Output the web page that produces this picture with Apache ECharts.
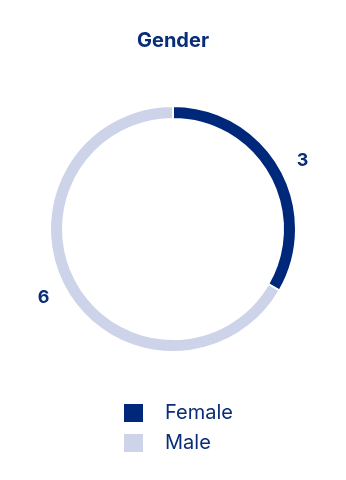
<!DOCTYPE html>
<html><head><meta charset="utf-8">
<script src="https://cdn.jsdelivr.net/npm/echarts@6/dist/echarts.min.js"></script>
<style>html,body{margin:0;padding:0;background:#fff}#c{width:346px;height:480px}</style>
</head><body><div id="c"></div>
<script>
const categories = ['Female', 'Male'];
const values = [3, 6];
const colors = ['#00287a', '#cdd3e9'];
const chart = echarts.init(document.getElementById('c'));
chart.setOption({
  animation: false,
  title: { text: 'Gender', left: 'center', top: 26, textStyle: { fontFamily: 'Inter', fontWeight: 'bold', fontSize: 20, color: '#0a2d78' } },
  legend: {
    orient: 'vertical', left: 117, top: 397, itemWidth: 21, itemHeight: 20, itemGap: 8,
    icon: 'rect', selectedMode: false,
    textStyle: { fontFamily: 'Inter', fontSize: 20, lineHeight: 20, color: '#0a2d78', padding: [0, 0, 0, 16] },
    data: categories
  },
  series: [{
    type: 'pie',
    center: [173, 229],
    radius: [110, 123],
    startAngle: 90,
    clockwise: true,
    itemStyle: { borderColor: '#fff', borderWidth: 2 },
    label: { show: true, position: 'outside', formatter: '{c}', fontFamily: 'Inter', fontWeight: 'bold', fontSize: 18, color: '#0a2d78' },
    labelLine: { show: false, length: 14, length2: 0 },
    data: categories.map((n, i) => ({ name: n, value: values[i], itemStyle: { color: colors[i] } }))
  }]
});
</script></body></html>
